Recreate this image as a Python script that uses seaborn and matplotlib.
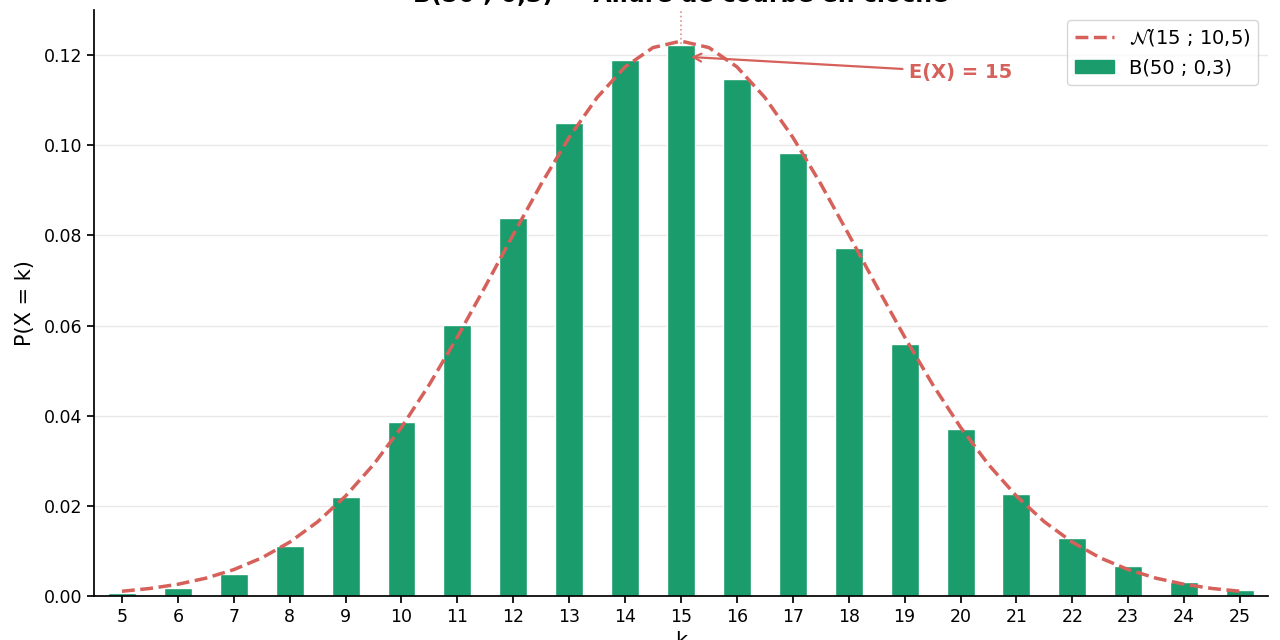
import matplotlib
matplotlib.use("Agg")
import matplotlib.pyplot as plt
import seaborn as sns
import numpy as np

# Loi binomiale B(50 ; 0,3) : valeurs
k_values = [5, 6, 7, 8, 9, 10, 11, 12, 13, 14, 15,
            16, 17, 18, 19, 20, 21, 22, 23, 24, 25]
pmf_values = [0.0006, 0.0018, 0.0048, 0.0110, 0.0220, 0.0386, 0.0602,
              0.0838, 0.1050, 0.1189, 0.1223, 0.1147, 0.0983, 0.0772,
              0.0558, 0.0370, 0.0227, 0.0128, 0.0067, 0.0032, 0.0014]

# Courbe N(15 ; 10,5) relevée tous les 0,5
curve_x = [5.0, 5.5, 6.0, 6.5, 7.0, 7.5, 8.0, 8.5, 9.0, 9.5, 10.0,
           10.5, 11.0, 11.5, 12.0, 12.5, 13.0, 13.5, 14.0, 14.5, 15.0,
           15.5, 16.0, 16.5, 17.0, 17.5, 18.0, 18.5, 19.0, 19.5, 20.0,
           20.5, 21.0, 21.5, 22.0, 22.5, 23.0, 23.5, 24.0, 24.5, 25.0]
curve_y = [0.00105, 0.00167, 0.00260, 0.00395, 0.00585, 0.00845, 0.01194,
           0.01646, 0.02217, 0.02916, 0.03743, 0.04694, 0.05746, 0.06870,
           0.08020, 0.09142, 0.10176, 0.11060, 0.11739, 0.12166, 0.12311,
           0.12166, 0.11739, 0.11060, 0.10176, 0.09142, 0.08020, 0.06870,
           0.05746, 0.04694, 0.03743, 0.02916, 0.02217, 0.01646, 0.01194,
           0.00845, 0.00585, 0.00395, 0.00260, 0.00167, 0.00105]

mean_value = 15
bar_label = "B(50 ; 0,3)"
curve_label = r"$\mathcal{N}$(15 ; 10,5)"
title = "B(50 ; 0,3) — Allure de courbe en cloche"

green = "#1a9c6c"
red = "#d6605a"

sns.set_theme(style="ticks")
plt.rcParams["font.family"] = ["DejaVu Sans"]
plt.rcParams["text.color"] = "black"
plt.rcParams["axes.labelcolor"] = "black"
plt.rcParams["xtick.color"] = "black"
plt.rcParams["ytick.color"] = "black"
plt.rcParams["axes.edgecolor"] = "black"

fig = plt.figure(figsize=(12.8, 6.4), dpi=100)
ax = fig.add_axes([94 / 1280, 44 / 640, (1268 - 94) / 1280, (596 - 10) / 640])

ax.axvline(mean_value, color=red, ls=":", lw=1.2, alpha=0.7, zorder=0.5)

sns.barplot(x=k_values, y=pmf_values, native_scale=True, width=0.5,
            color=green, saturation=1, ax=ax, zorder=2)
sns.lineplot(x=curve_x, y=curve_y, color=red, lw=2.5, ls="--", ax=ax, zorder=3)

ax.annotate("E(X) = 15", xy=(15.13, 0.1196), xytext=(19.07, 0.1162),
            color=red, fontsize=14, fontweight="bold", va="center",
            arrowprops=dict(arrowstyle="->", color=red, lw=1.6), zorder=4)

ax.set_xlim(4.5, 25.5)
ax.set_ylim(0, 0.13)
ax.set_xticks(k_values)
ax.set_yticks([0.0, 0.02, 0.04, 0.06, 0.08, 0.10, 0.12])
ax.yaxis.set_major_formatter(matplotlib.ticker.FormatStrFormatter("%.2f"))
ax.tick_params(labelsize=12.5, length=5)
ax.yaxis.grid(True, color="#e8e8e8", lw=1)
ax.set_axisbelow(True)
sns.despine(ax=ax)

ax.set_xlabel("k", fontsize=15)
ax.set_ylabel("P(X = k)", fontsize=15, labelpad=6)
ax.set_title(title, fontsize=17, fontweight="bold")

line_handle = plt.Line2D([], [], color=red, lw=2.5, ls="--")
bar_handle = plt.Rectangle((0, 0), 1, 1, color=green)
ax.legend([line_handle, bar_handle], [curve_label, bar_label], loc="upper right",
          fontsize=14, frameon=True, fancybox=True, edgecolor="#cccccc")

fig.savefig("out.png", dpi=100)
